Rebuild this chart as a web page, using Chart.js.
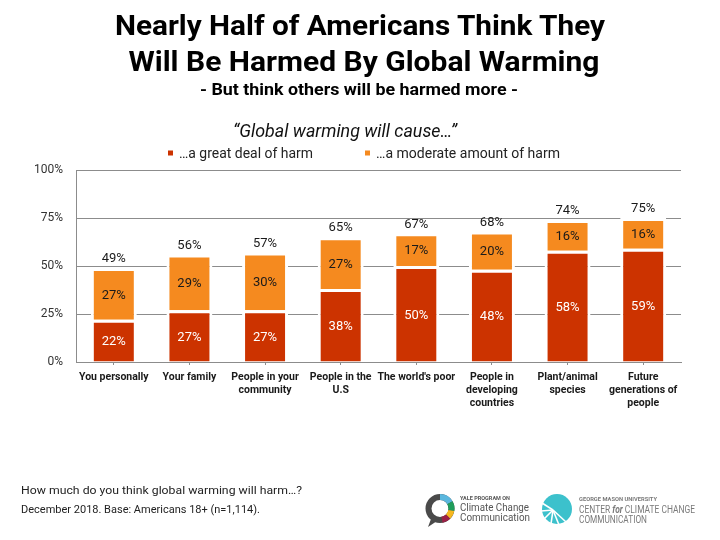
<!DOCTYPE html>
<html>
<head>
<meta charset="utf-8">
<script src="https://cdn.jsdelivr.net/npm/chart.js@4.4.1/dist/chart.umd.min.js"></script>
<style>
  body { margin: 0; background: #fff; }
  #wrap { position: relative; width: 720px; height: 540px; overflow: hidden; }
  #myChart { position: absolute; left: 0; top: 0; }
  #overlay { position: absolute; left: 0; top: 0; pointer-events: none; font-family: Roboto, sans-serif; }
</style>
</head>
<body>
<div id="wrap">
  <canvas id="myChart" width="720" height="540"></canvas>
  <svg id="overlay" width="720" height="540" xmlns="http://www.w3.org/2000/svg">
    <text x="360" y="35" text-anchor="middle" font-size="28" font-weight="bold" fill="#000" textLength="490" lengthAdjust="spacingAndGlyphs">Nearly Half of Americans Think They</text>
    <text x="364" y="71" text-anchor="middle" font-size="28" font-weight="bold" fill="#000" textLength="471" lengthAdjust="spacingAndGlyphs">Will Be Harmed By Global Warming</text>
    <text x="359" y="95" text-anchor="middle" font-size="17" font-weight="bold" fill="#000" textLength="318" lengthAdjust="spacingAndGlyphs">- But think others will be harmed more -</text>
    <text x="345" y="137" text-anchor="middle" font-size="18.5" font-style="italic" fill="#111" textLength="224" lengthAdjust="spacingAndGlyphs">“Global warming will cause…”</text>

    <rect x="168" y="150.5" width="5" height="5" fill="#CC3300"/>
    <text x="179" y="158" font-size="14" fill="#222" textLength="134" lengthAdjust="spacingAndGlyphs">…a great deal of harm</text>
    <rect x="365" y="150.5" width="5" height="5" fill="#F58A1F"/>
    <text x="376" y="158" font-size="14" fill="#222" textLength="184" lengthAdjust="spacingAndGlyphs">…a moderate amount of harm</text>

    <text x="21" y="493.5" font-size="11.5" fill="#222" textLength="281" lengthAdjust="spacingAndGlyphs">How much do you think global warming will harm…?</text>
    <text x="21" y="513" font-size="10.5" fill="#222" textLength="239" lengthAdjust="spacingAndGlyphs">December 2018. Base: Americans 18+ (n=1,114).</text>

    <!-- yale logo -->
    <g fill="none" stroke-width="6">
      <path d="M431 519 L428 527 L437 521 Z" fill="#4a4a4a" stroke="none"/>
      <circle cx="440" cy="508.5" r="11.5" stroke="#4a4a4a"/>
      <path d="M440 497 A11.5 11.5 0 0 1 449.9 502.7" stroke="#5ab7de"/>
      <path d="M449.9 502.7 A11.5 11.5 0 0 1 451.3 510.5" stroke="#1f9d5b"/>
      <path d="M451.3 510.5 A11.5 11.5 0 0 1 448.1 516.6" stroke="#f6b81f"/>
      <path d="M448.1 516.6 A11.5 11.5 0 0 1 442 519.8" stroke="#9c2046"/>
    </g>
    <text x="460" y="500" font-size="5" font-weight="bold" fill="#555" textLength="50" lengthAdjust="spacingAndGlyphs">YALE PROGRAM ON</text>
    <text x="460" y="510.5" font-size="10" fill="#555" textLength="69" lengthAdjust="spacingAndGlyphs">Climate Change</text>
    <text x="460" y="520.5" font-size="10" fill="#555" textLength="70" lengthAdjust="spacingAndGlyphs">Communication</text>

    <!-- mason logo -->
    <circle cx="557" cy="509" r="15" fill="#3cc1cc"/>
    <g stroke="#fff" stroke-width="1.6">
      <line x1="553" y1="510" x2="542" y2="503"/>
      <line x1="553" y1="510" x2="541" y2="511"/>
      <line x1="553" y1="510" x2="544" y2="519"/>
      <line x1="553" y1="510" x2="551" y2="524"/>
      <line x1="553" y1="510" x2="559" y2="525"/>
      <line x1="553" y1="510" x2="566" y2="522"/>
    </g>
    <text x="579" y="500.5" font-size="5" font-weight="bold" fill="#7a7a7a" textLength="78" lengthAdjust="spacingAndGlyphs">GEORGE MASON UNIVERSITY</text>
    <text x="579" y="512.5" font-size="10" fill="#7a7a7a" textLength="116" lengthAdjust="spacingAndGlyphs">CENTER <tspan font-style="italic" font-weight="bold">for</tspan> CLIMATE CHANGE</text>
    <text x="579" y="522.5" font-size="10" fill="#7a7a7a" textLength="68" lengthAdjust="spacingAndGlyphs">COMMUNICATION</text>
  </svg>
</div>
<script>
const categories = [
    ['You personally'],
    ['Your family'],
    ['People in your', 'community'],
    ['People in the', 'U.S'],
    ["The world's poor"],
    ['People in', 'developing', 'countries'],
    ['Plant/animal', 'species'],
    ['Future', 'generations of', 'people']
];
const greatDeal = [22, 27, 27, 38, 50, 48, 58, 59];
const moderate = [27, 29, 30, 27, 17, 20, 16, 16];
const totals = [49, 56, 57, 65, 67, 68, 74, 75];

const RED = '#CC3300';
const ORANGE = '#F58A1F';
const GRID = '#8c8c8c';
const BORDER = 3;

Chart.defaults.font.family = 'Roboto, sans-serif';

// value labels inside the bars and the totals above them
const barLabels = {
    id: 'barLabels',
    afterDatasetsDraw(chart) {
        const ctx = chart.ctx;
        ctx.save();
        ctx.font = '13px Roboto, sans-serif';
        ctx.textAlign = 'center';
        ctx.textBaseline = 'middle';
        chart.data.datasets.forEach((ds, i) => {
            const meta = chart.getDatasetMeta(i);
            meta.data.forEach((bar, j) => {
                const mid = (bar.y + BORDER + bar.base) / 2;
                ctx.fillStyle = i === 0 ? '#fff' : '#1a1a1a';
                ctx.fillText(ds.data[j] + '%', bar.x, mid);
                if (i === 1) {
                    ctx.fillStyle = '#1a1a1a';
                    ctx.fillText(totals[j] + '%', bar.x, bar.y - 9);
                }
            });
        });
        ctx.restore();
    }
};

const data = {
    labels: categories,
    datasets: [
        {
            label: '…a great deal of harm',
            data: greatDeal,
            backgroundColor: RED,
            borderColor: '#fff',
            borderWidth: BORDER,
            borderSkipped: 'start'
        },
        {
            label: '…a moderate amount of harm',
            data: moderate,
            backgroundColor: ORANGE,
            borderColor: '#fff',
            borderWidth: BORDER,
            borderSkipped: 'start'
        }
    ]
};

const config = {
    type: 'bar',
    data: data,
    plugins: [barLabels],
    options: {
        responsive: false,
        animation: false,
        datasets: {
            bar: { categoryPercentage: 1, barPercentage: 0.608 }
        },
        layout: {
            padding: { top: 170, right: 39, bottom: 118, left: 0 }
        },
        plugins: {
            legend: { display: false },
            tooltip: { enabled: false }
        },
        scales: {
            x: {
                stacked: true,
                afterFit(scale) { scale.height = 60; },
                grid: {
                    offset: false,
                    drawOnChartArea: false,
                    tickLength: 3,
                    color: GRID
                },
                border: { color: GRID, width: 1 },
                ticks: {
                    padding: 6,
                    color: '#1a1a1a',
                    maxRotation: 0,
                    autoSkip: false,
                    font: { size: 10.5, weight: 'bold', lineHeight: 1.25 }
                }
            },
            y: {
                stacked: true,
                min: 0,
                max: 100,
                afterFit(scale) { scale.width = 76; },
                grid: { color: GRID, drawTicks: false },
                border: { color: GRID, width: 1 },
                ticks: {
                    stepSize: 25,
                    padding: 13,
                    color: '#333',
                    font: { size: 12 },
                    callback: v => v + '%'
                }
            }
        }
    }
};

const myChart = new Chart(document.getElementById('myChart'), config);
</script>
</body>
</html>
